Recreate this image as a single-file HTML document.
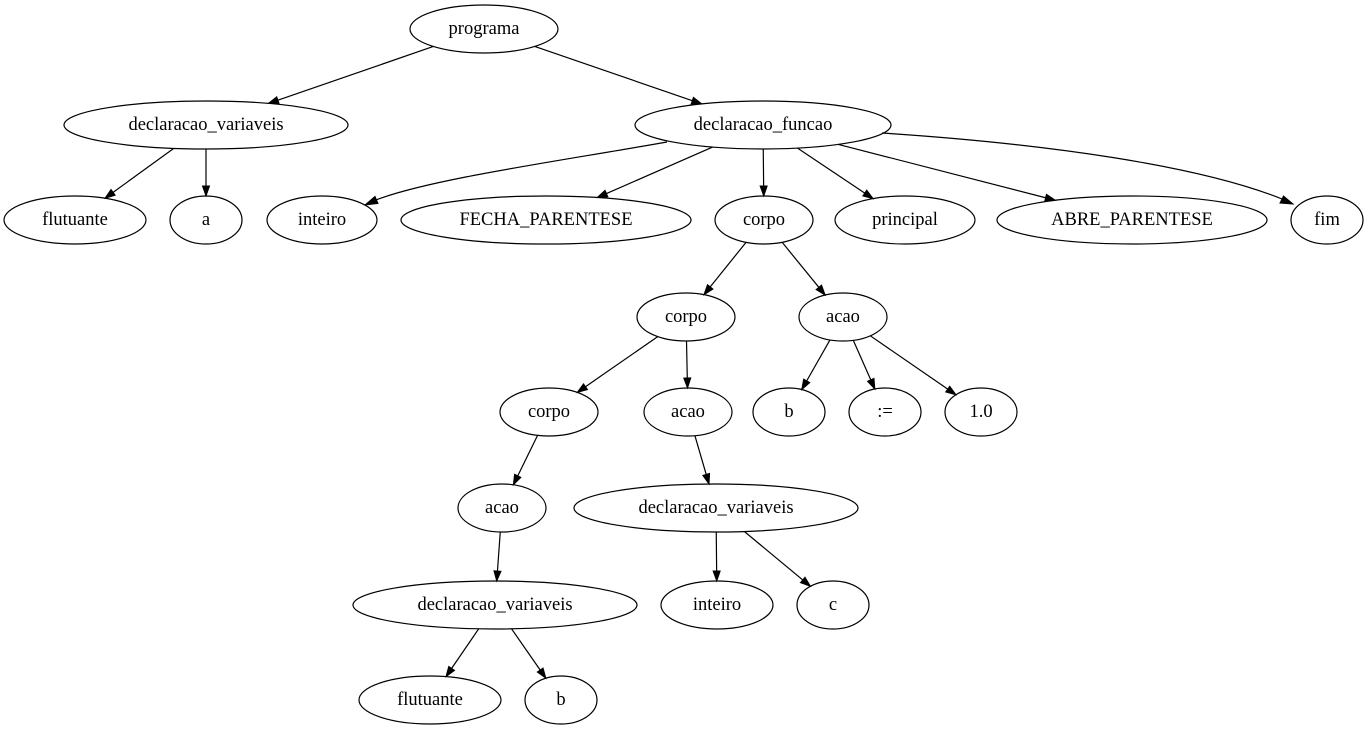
<!DOCTYPE html>
<html><head><meta charset="utf-8"><style>
html,body{margin:0;padding:0;background:#fff;width:1369px;height:731px;overflow:hidden}
svg text{font-family:"Liberation Serif",serif;font-size:18.5px;text-anchor:middle;dominant-baseline:central}
</style></head><body>
<svg id="g" width="1369" height="731" xmlns="http://www.w3.org/2000/svg">
<g transform="translate(0,1)">
<g id="nodes" fill="none" stroke="#000" stroke-width="1.2">
<ellipse cx="484" cy="28" rx="74" ry="24"/>
<ellipse cx="206" cy="124" rx="142" ry="24"/>
<ellipse cx="763" cy="124" rx="128" ry="24"/>
<ellipse cx="75" cy="219" rx="71" ry="24"/>
<ellipse cx="206" cy="219" rx="36" ry="24"/>
<ellipse cx="322" cy="219" rx="55" ry="24"/>
<ellipse cx="546" cy="219" rx="145" ry="24"/>
<ellipse cx="764" cy="219" rx="49" ry="24"/>
<ellipse cx="905" cy="219" rx="70" ry="24"/>
<ellipse cx="1132" cy="219" rx="135" ry="24"/>
<ellipse cx="1327" cy="219" rx="36" ry="24"/>
<ellipse cx="686" cy="316" rx="49" ry="24"/>
<ellipse cx="843" cy="316" rx="44" ry="24"/>
<ellipse cx="549" cy="411" rx="49" ry="24"/>
<ellipse cx="688" cy="411" rx="44" ry="24"/>
<ellipse cx="789" cy="411" rx="36" ry="24"/>
<ellipse cx="885" cy="411" rx="36" ry="24"/>
<ellipse cx="981" cy="411" rx="36" ry="24"/>
<ellipse cx="502" cy="507" rx="44" ry="24"/>
<ellipse cx="716" cy="507" rx="142" ry="24"/>
<ellipse cx="495" cy="604" rx="142" ry="24"/>
<ellipse cx="717" cy="604" rx="56" ry="24"/>
<ellipse cx="833" cy="604" rx="36" ry="24"/>
<ellipse cx="430" cy="699" rx="71" ry="24"/>
<ellipse cx="561" cy="699" rx="36" ry="24"/>
</g>
<g id="edges"></g>
<g fill="none" stroke="#000" stroke-width="1.2">
<path d="M667,141 C560,160 430,178 376,199"/>
<path d="M882,132 C1050,143 1200,165 1282,198"/>
</g>
<polygon points="365,204 375,195.5 378,202.5" fill="#000" stroke="#000"/>
<polygon points="1293,203 1280,202 1283.5,195" fill="#000" stroke="#000"/>
<g>
<text x="484" y="28">programa</text>
<text x="206" y="124">declaracao_variaveis</text>
<text x="763" y="124">declaracao_funcao</text>
<text x="75" y="219">flutuante</text>
<text x="206" y="219">a</text>
<text x="322" y="219">inteiro</text>
<text x="546" y="219">FECHA_PARENTESE</text>
<text x="764" y="219">corpo</text>
<text x="905" y="219">principal</text>
<text x="1132" y="219">ABRE_PARENTESE</text>
<text x="1327" y="219">fim</text>
<text x="686" y="316">corpo</text>
<text x="843" y="316">acao</text>
<text x="549" y="411">corpo</text>
<text x="688" y="411">acao</text>
<text x="789" y="411">b</text>
<text x="885" y="411">:=</text>
<text x="981" y="411">1.0</text>
<text x="502" y="507">acao</text>
<text x="716" y="507">declaracao_variaveis</text>
<text x="495" y="604">declaracao_variaveis</text>
<text x="717" y="604">inteiro</text>
<text x="833" y="604">c</text>
<text x="430" y="699">flutuante</text>
<text x="561" y="699">b</text>
</g>
</g>
</svg>
<script>
var E=[].slice.call(document.querySelectorAll('#nodes ellipse')).map(function(e){return[+e.getAttribute('cx'),+e.getAttribute('cy'),+e.getAttribute('rx'),+e.getAttribute('ry')]});
var P=[[0,1],[0,2],[1,3],[1,4],[2,6],[2,7],[2,8],[2,9],[7,11],[7,12],[11,13],[11,14],[12,15],[12,16],[12,17],[13,18],[14,19],[18,20],[19,21],[19,22],[20,23],[20,24]];
function bd(n,dx,dy){var a=E[n],l=Math.sqrt(dx*dx/(a[2]*a[2])+dy*dy/(a[3]*a[3]));return[a[0]+dx/l,a[1]+dy/l];}
var s='';
P.forEach(function(p){var a=E[p[0]],b=E[p[1]],dx=b[0]-a[0],dy=b[1]-a[1];
var s0=bd(p[0],dx,dy),e0=bd(p[1],-dx,-dy);var vx=e0[0]-s0[0],vy=e0[1]-s0[1],L=Math.hypot(vx,vy);vx/=L;vy/=L;
var bx=e0[0]-vx*10,by=e0[1]-vy*10,nx=-vy*3.5,ny=vx*3.5;
s+='<line x1="'+s0[0]+'" y1="'+s0[1]+'" x2="'+bx+'" y2="'+by+'" stroke="#000" stroke-width="1.2"/>';
s+='<polygon points="'+e0[0]+','+e0[1]+' '+(bx+nx)+','+(by+ny)+' '+(bx-nx)+','+(by-ny)+'" fill="#000" stroke="#000"/>';});
document.getElementById('edges').innerHTML=s;
</script>
</body></html>
